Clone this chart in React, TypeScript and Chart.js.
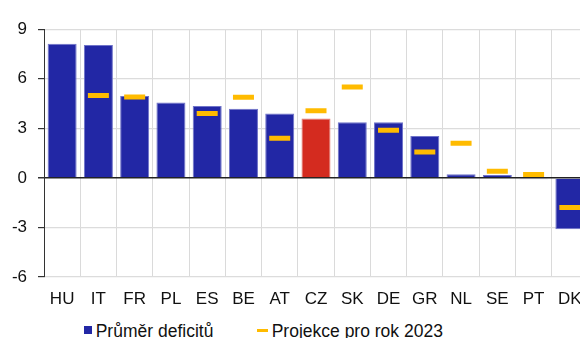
import React, { useEffect, useRef } from "react";
import { Chart, registerables } from "chart.js";

Chart.register(...registerables);

const categories = ["HU", "IT", "FR", "PL", "ES", "BE", "AT", "CZ", "SK", "DE", "GR", "NL", "SE", "PT", "DK"];
const avgDeficit = [8.12, 8.04, 4.96, 4.56, 4.35, 4.19, 3.89, 3.6, 3.37, 3.37, 2.54, 0.22, 0.18, -0.08, -3.11];
const projection2023 = [null, 4.98, 4.9, null, 3.89, 4.88, 2.4, 4.07, 5.5, 2.88, 1.57, 2.1, 0.4, 0.2, -1.8];
const yTickValues = [-6, -3, 0, 3, 6, 9];
const highlighted = "CZ";
const seriesNames = ["Průměr deficitů", "Projekce pro rok 2023"];

const BLUE = "#2227a5";
const BLUE_EDGE = "#6f73c9";
const RED = "#d42b1f";
const RED_EDGE = "#e47a72";
const YELLOW = "#ffbb00";
const FONT = "'Liberation Sans', Arial, Helvetica, sans-serif";

export default function App() {
  const ref = useRef<HTMLCanvasElement>(null);

  useEffect(() => {
    document.body.style.margin = "0";
    document.body.style.overflow = "hidden";
    Chart.defaults.font.family = FONT;
    const chart = new Chart(ref.current as HTMLCanvasElement, {
      data: {
        labels: categories,
        datasets: [
          {
            type: "bar",
            label: seriesNames[0],
            data: avgDeficit,
            backgroundColor: categories.map((c) => (c === highlighted ? RED : BLUE)),
            borderColor: categories.map((c) => (c === highlighted ? RED_EDGE : BLUE_EDGE)),
            borderWidth: 1,
            barPercentage: 0.8,
            categoryPercentage: 1,
            order: 2,
          },
          {
            type: "line",
            label: seriesNames[1],
            data: projection2023,
            showLine: false,
            pointStyle: "line",
            pointRadius: 10.5,
            pointHoverRadius: 10.5,
            pointBorderWidth: 5,
            pointHoverBorderWidth: 5,
            pointBorderColor: YELLOW,
            borderColor: YELLOW,
            backgroundColor: YELLOW,
            order: 1,
          },
        ],
      } as any,
      options: {
        responsive: false,
        animation: false,
        events: [],
        layout: { padding: { top: 17.7, left: 0, right: 20, bottom: 0 } },
        plugins: {
          legend: { display: false },
          tooltip: { enabled: false },
        },
        scales: {
          x: {
            grid: { color: "#dadada", lineWidth: 1, drawTicks: false, offset: true },
            border: { display: false },
            ticks: {
              color: "#111",
              font: { size: 17, family: FONT },
              padding: 12,
              autoSkip: false,
              maxRotation: 0,
            },
            afterFit: (s: any) => {
              s.height = 31;
            },
          },
          y: {
            min: yTickValues[0],
            max: yTickValues[yTickValues.length - 1],
            afterBuildTicks: (s: any) => {
              s.ticks = yTickValues.map((v) => ({ value: v }));
            },
            ticks: {
              color: "#111",
              font: { size: 17, family: FONT },
              padding: 11,
            },
            grid: {
              color: (ctx: any) => (ctx.tick && ctx.tick.value === 0 ? "#222" : "#dcdcdc"),
              lineWidth: (ctx: any) => (ctx.tick && ctx.tick.value === 0 ? 1.5 : 1.2),
              tickColor: "#333",
              tickLength: 6,
            },
            border: { color: "#333", width: 1 },
            afterFit: (s: any) => {
              s.width = 36;
            },
          },
        },
      } as any,
    });
    return () => chart.destroy();
  }, []);

  const textStyle: React.CSSProperties = {
    position: "absolute",
    top: 321,
    fontFamily: FONT,
    fontSize: 17.5,
    lineHeight: "20px",
    color: "#111",
    whiteSpace: "nowrap",
  };

  return (
    <div style={{ position: "relative", width: 580, height: 338, overflow: "hidden", background: "#fff" }}>
      <canvas
        ref={ref}
        width={600}
        height={300}
        style={{ display: "block", position: "absolute", left: 8, top: 8 }}
      />
      <div style={{ position: "absolute", left: 84, top: 326, width: 8, height: 8, background: BLUE }} />
      <span style={{ ...textStyle, left: 95.7 }}>{seriesNames[0]}</span>
      <div style={{ position: "absolute", left: 257, top: 328.5, width: 11, height: 3, background: YELLOW }} />
      <span style={{ ...textStyle, left: 271.7 }}>{seriesNames[1]}</span>
    </div>
  );
}
